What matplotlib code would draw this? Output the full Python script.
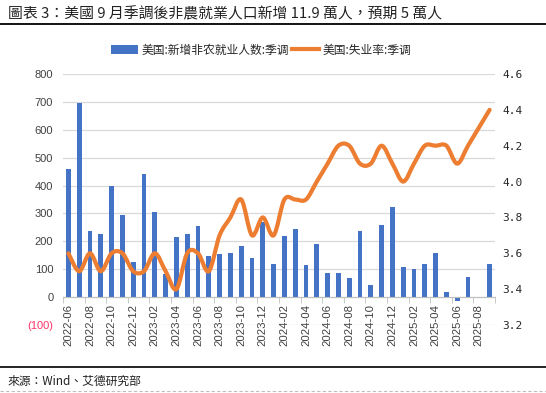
import matplotlib
matplotlib.use('Agg')
import matplotlib.pyplot as plt
from matplotlib.path import Path
from matplotlib.patches import PathPatch, Patch
from matplotlib.lines import Line2D
import numpy as np

months = ["2022-06", "2022-07", "2022-08", "2022-09", "2022-10", "2022-11", "2022-12",
          "2023-01", "2023-02", "2023-03", "2023-04", "2023-05", "2023-06", "2023-07",
          "2023-08", "2023-09", "2023-10", "2023-11", "2023-12", "2024-01", "2024-02",
          "2024-03", "2024-04", "2024-05", "2024-06", "2024-07", "2024-08", "2024-09",
          "2024-10", "2024-11", "2024-12", "2025-01", "2025-02", "2025-03", "2025-04",
          "2025-05", "2025-06", "2025-07", "2025-08", "2025-09"]

nfp = [460, 697, 238, 227, 400, 295, 127, 443, 306, 84,
       217, 227, 256, 148, 156, 159, 184, 141, 270, 120,
       220, 245, 116, 191, 87, 87, 69, 238, 44, 260,
       324, 109, 102, 120, 159, 19, -13, 73, -4, 119]

unemp = [3.6, 3.5, 3.6, 3.5, 3.6, 3.6, 3.5, 3.5, 3.6, 3.5,
         3.4, 3.6, 3.6, 3.5, 3.7, 3.8, 3.9, 3.7, 3.8, 3.7,
         3.9, 3.9, 3.9, 4.0, 4.1, 4.2, 4.2, 4.1, 4.1, 4.2,
         4.1, 4.0, 4.1, 4.2, 4.2, 4.2, 4.1, 4.2, 4.3, 4.4]

left_ticks = [-100, 0, 100, 200, 300, 400, 500, 600, 700, 800]
left_labels = ["(100)", "0", "100", "200", "300", "400", "500", "600", "700", "800"]
right_ticks = [3.2, 3.4, 3.6, 3.8, 4.0, 4.2, 4.4, 4.6]

title = "圖表 3：美國 9 月季調後非農就業人口新增 11.9 萬人，預期 5 萬人"
legend_bar = "美国:新增非农就业人数:季调"
legend_line = "美国:失业率:季调"
source = "來源：Wind、艾德研究部"

BLUE = "#4472C4"
ORANGE = "#ED7D31"
GRID = "#D9D9D9"
TXT = "#404040"

W, H = 546, 393
fig = plt.figure(figsize=(W / 100, H / 100), dpi=100)
ax = fig.add_axes([63 / W, 1 - 325 / H, 432 / W, 251 / H])
ax2 = ax.twinx()

x = np.arange(len(months))
ax.bar(x, nfp, width=0.45, color=BLUE, zorder=2)
ax.set_xlim(-0.5, len(months) - 0.5)
ax.set_ylim(-100, 800)
ax.set_yticks(left_ticks)
ax.set_yticklabels(left_labels, fontsize=8, family="Liberation Sans", color=TXT)
ax.get_yticklabels()[0].set_color("#FF3366")
ax.tick_params(axis="y", length=0, pad=7)
ax.yaxis.grid(True, color=GRID, linewidth=0.9)
ax.set_axisbelow(True)
for s in ["top", "left", "right"]:
    ax.spines[s].set_visible(False)
ax.spines["bottom"].set_position(("data", 0))
ax.spines["bottom"].set_color("#BFBFBF")
ax.set_xticks(x[::2])
ax.set_xticklabels(months[::2], rotation=90, fontsize=8.2, family="Liberation Sans", color=TXT)
ax.set_xticks(np.arange(-0.5, len(months), 2), minor=True)
ax.tick_params(axis="x", which="major", length=0, pad=5)
ax.tick_params(axis="x", which="minor", length=4, color="#BFBFBF")

# smoothed line (Catmull-Rom -> cubic Bezier through the data points)
px = list(x.astype(float))
py = list(unemp)
verts = [(px[0], py[0])]
codes = [Path.MOVETO]
n = len(px)
for i in range(n - 1):
    p0 = (px[max(i - 1, 0)], py[max(i - 1, 0)])
    p1 = (px[i], py[i])
    p2 = (px[i + 1], py[i + 1])
    p3 = (px[min(i + 2, n - 1)], py[min(i + 2, n - 1)])
    c1 = (p1[0] + (p2[0] - p0[0]) / 6, p1[1] + (p2[1] - p0[1]) / 6)
    c2 = (p2[0] - (p3[0] - p1[0]) / 6, p2[1] - (p3[1] - p1[1]) / 6)
    verts += [c1, c2, p2]
    codes += [Path.CURVE4] * 3
ax2.add_patch(PathPatch(Path(verts, codes), fill=False, edgecolor=ORANGE,
                        linewidth=3, capstyle="round", joinstyle="round", zorder=3))
ax2.set_ylim(3.2, 4.6)
ax2.set_yticks(right_ticks)
ax2.set_yticklabels([f"{v:.1f}" for v in right_ticks], fontsize=8,
                    family="DejaVu Sans Mono", color="#262626")
ax2.tick_params(axis="y", length=0, pad=5)
for s in ax2.spines.values():
    s.set_visible(False)

handles = [Patch(facecolor=BLUE, edgecolor="none"),
           Line2D([0], [0], color=ORANGE, linewidth=3)]
fig.legend(handles, [legend_bar, legend_line], loc="center", ncol=2,
           bbox_to_anchor=(261 / W, 1 - 50 / H), frameon=False,
           prop={"family": "Noto Sans CJK SC", "size": 8.5},
           handlelength=2.3, handletextpad=0.3, columnspacing=0.2,
           labelcolor="#262626")

fig.text(8 / W, 1 - 14 / H, title, ha="left", va="center", fontsize=10.7,
         family=["Noto Sans CJK TC", "DejaVu Sans"], color="#222222")
fig.add_artist(Line2D([0, 1], [1 - 23.5 / H, 1 - 23.5 / H], color="black", linewidth=1.3))
fig.add_artist(Line2D([0, 1], [1 - 367 / H, 1 - 367 / H], color="black", linewidth=1.2))
fig.text(8 / W, 1 - 381 / H, source, ha="left", va="center", fontsize=8.5,
         family=["Noto Sans CJK TC", "DejaVu Sans"], color="#222222")
fig.add_artist(Line2D([0, 1], [1 - 391 / H, 1 - 391 / H], color="#BFBFBF",
                      linewidth=0.8, linestyle=(0, (3, 2))))

fig.savefig("out.png", dpi=100)
